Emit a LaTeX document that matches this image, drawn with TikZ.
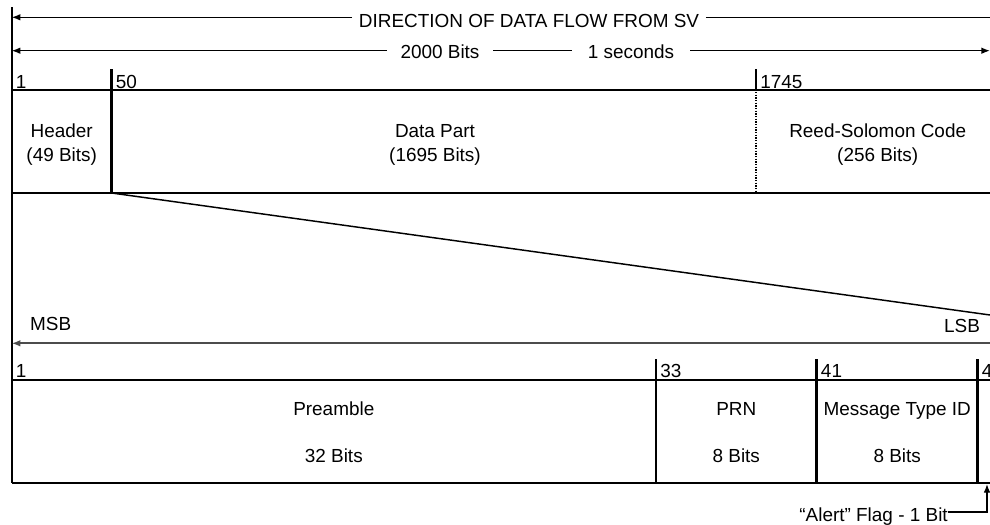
\documentclass[tikz,border=0pt]{standalone}
\usepackage{fontspec}
\setmainfont{Liberation Sans}
\usepackage{tikz}
\usetikzlibrary{arrows.meta}

\begin{document}
\begin{tikzpicture}[x=0.75pt,y=-0.75pt,
    font=\fontsize{14.2}{17}\selectfont,
    frame/.style={line width=1.5pt},
    bar/.style={line width=2.2pt},
    flow/.style={line width=1.1pt,-{Latex[length=6.5pt,width=5pt]}},
    gap/.style={anchor=base,fill=white,inner ysep=0pt},
    lbl/.style={anchor=base,inner sep=0pt},
    bitno/.style={anchor=base west,inner sep=0pt,xshift=3pt}
]
\useasboundingbox (0,0) rectangle (990,525);
\clip (0,0) rectangle (990,525);

% left edge
\coordinate (edgeTop) at (11.7,7);
\coordinate (edgeBot) at (11.7,483);
\draw[frame] (edgeTop) -- (edgeBot);

% direction of flow
\coordinate (dirL) at (11.7,17.3);
\coordinate (dirR) at (990,17.3);
\node[gap,inner xsep=5pt] (dir) at (529,27.3) {DIRECTION OF DATA FLOW FROM SV};
\draw[flow] (dirL -| dir.west) -- (dirL);
\draw[line width=1.1pt] (dir.east |- dirR) -- (dirR);

% frame length
\coordinate (lenL) at (11.7,50.7);
\coordinate (lenR) at (990,50.7);
\node[gap,inner xsep=10pt] (bits) at (440,58.3) {2000 Bits};
\node[gap,inner xsep=12pt] (secs) at (631,58.3) {1 seconds};
\draw[flow] (lenL -| bits.west) -- (lenL);
\draw[line width=1.1pt] (bits.east |- lenL) -- (secs.west |- lenL);
\draw[flow] (secs.east |- lenR) -- (lenR);

% message frame
\coordinate (rowA1) at (11.7,90);
\coordinate (rowA2) at (990,90);
\coordinate (rowB1) at (11.7,193);
\coordinate (rowB2) at (990,193);
\draw[frame] (rowA1) -- (rowA2);
\draw[frame] (rowB1) -- (rowB2);
\draw[bar] (111.7,69) coordinate (hdrTop) -- (111.7,193) coordinate (hdrEnd);
\draw[bar] (756,69) coordinate (rsTop) -- (756,90);
\draw[line width=1.2pt,dash pattern=on 1pt off 1pt] (756,92) -- (756,191);
\node[bitno] (n1) at (11.7,88) {1};
\node[bitno] (n50) at (111.7,88) {50};
\node[bitno] (n1745) at (756,88) {1745};

\node[lbl] (hdr) at (61.7,137.3) {Header};
\node[lbl] (hdrBits) at (61.7,161) {(49 Bits)};
\node[lbl] (data) at (435,137.3) {Data Part};
\node[lbl] (dataBits) at (435,161) {(1695 Bits)};
\node[lbl] (rs) at (877.7,137.3) {Reed-Solomon Code};
\node[lbl] (rsBits) at (877.7,161) {(256 Bits)};

% header expanded below
\coordinate (lsbEnd) at (990,315);
\draw[line width=1.1pt] (hdrEnd) -- (lsbEnd);

\node[lbl] (msb) at (50.7,330.7) {MSB};
\node[lbl] (lsb) at (962,332) {LSB};
\coordinate (bitL) at (11.7,343.3);
\coordinate (bitR) at (990,343.3);
\draw[flow,line width=1.3pt,draw=black!70] (bitR) -- (bitL);

\coordinate (cellA1) at (11.7,380);
\coordinate (cellA2) at (990,380);
\coordinate (cellB1) at (11.7,483);
\coordinate (cellB2) at (990,483);
\draw[bar] (cellA1) -- (cellA2);
\draw[frame] (cellB1) -- (cellB2);
\node[bitno] (b1) at (11.7,377.3) {1};
\foreach \x/\n/\w in {656/33/1.5pt, 816.7/41/2.2pt, 977.7/49/2.2pt}{
    \draw[line width=\w] (\x,359) -- (\x,483);
    \node[bitno] (b\n) at (\x,377.3) {\n};
}

\node[lbl] (pre) at (333.8,415) {Preamble};
\node[lbl] (preBits) at (333.8,462.7) {32 Bits};
\node[lbl] (prn) at (736.3,415) {PRN};
\node[lbl] (prnBits) at (736.3,462.7) {8 Bits};
\node[lbl] (mtid) at (897.2,415) {Message Type ID};
\node[lbl] (mtidBits) at (897.2,462.7) {8 Bits};

% alert flag pointer
\node[lbl,anchor=base east] (alert) at (948,521) {“Alert” Flag - 1 Bit};
\coordinate (flagTurn) at (987,512);
\coordinate (flagTip) at (987,484);
\draw[flow,line width=1pt] (alert.east |- flagTurn) -- (flagTurn) -- (flagTip);
\end{tikzpicture}
\end{document}
